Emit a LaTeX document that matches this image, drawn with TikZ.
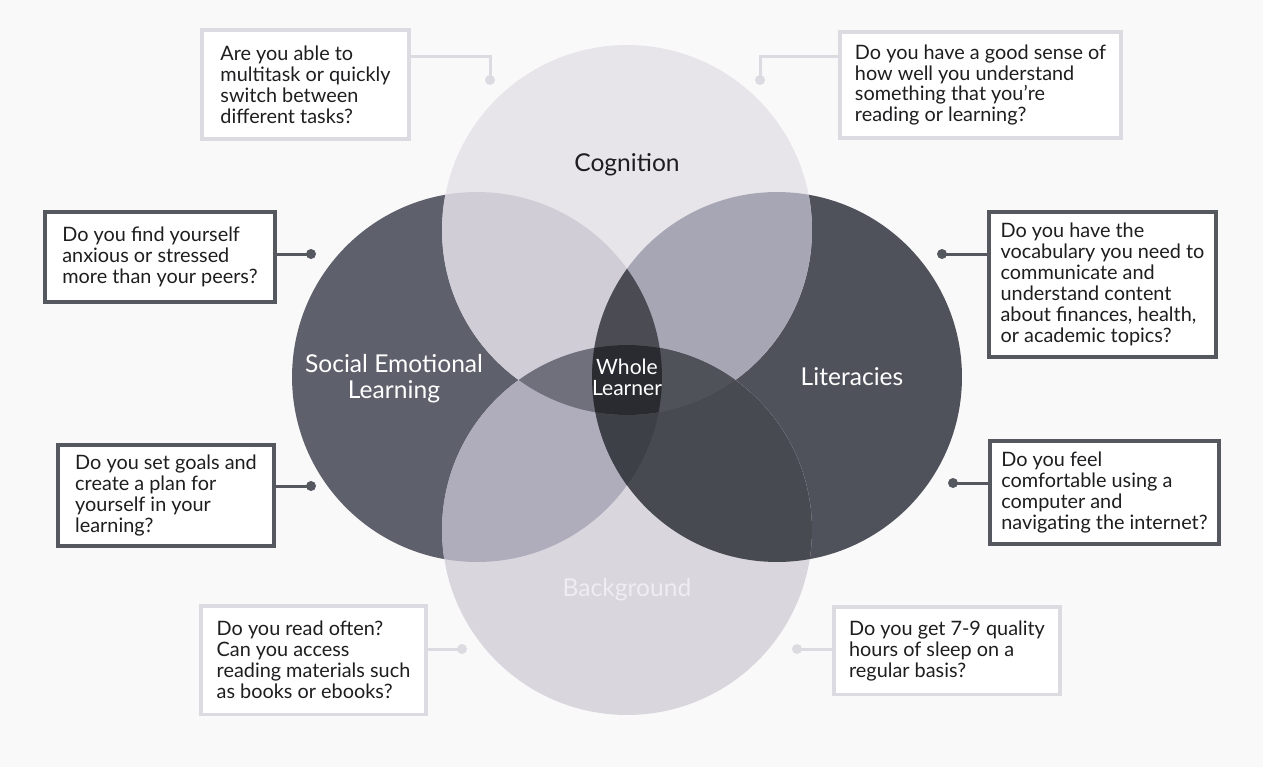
\documentclass[tikz,border=0pt]{standalone}
\usepackage{fontspec}
\setmainfont{Lato}
\usetikzlibrary{calc}

\definecolor{pagebg}{RGB}{250,249,250}
\definecolor{boxlight}{RGB}{221,219,226}
\definecolor{boxdark}{RGB}{86,88,96}
\definecolor{qtext}{RGB}{30,30,32}
% region colours of the four circles
\definecolor{cogonly}{RGB}{231,228,234}
\definecolor{bgonly}{RGB}{217,214,222}
\definecolor{selonly}{RGB}{94,96,107}
\definecolor{litonly}{RGB}{80,82,91}
\definecolor{cogsel}{RGB}{208,205,215}
\definecolor{coglit}{RGB}{167,166,180}
\definecolor{selbg}{RGB}{175,173,188}
\definecolor{litbg}{RGB}{72,74,82}
\definecolor{cogsellit}{RGB}{74,75,83}
\definecolor{sellitbg}{RGB}{62,64,71}
\definecolor{cogbgsel}{RGB}{111,112,124}
\definecolor{cogbglit}{RGB}{80,82,90}
\definecolor{allfour}{RGB}{42,43,48}
\definecolor{bglabel}{RGB}{238,237,242}

\begin{document}
\begin{tikzpicture}[x=0.02cm, y=-0.02cm,
    qbox/.style={draw, line width=0.07cm, fill=white, align=left, text=qtext,
        font=\fontsize{11.3}{11.95}\selectfont},
    lightbox/.style={qbox, draw=boxlight},
    darkbox/.style={qbox, draw=boxdark},
    lightlink/.style={draw=boxlight, line width=0.06cm},
    darklink/.style={draw=boxdark, line width=0.06cm},
    clabel/.style={font=\fontsize{14}{14.8}\selectfont, align=center, text=white}]

    % page
    \fill[pagebg] (0,0) rectangle (1263,767);
    \useasboundingbox (0,0) rectangle (1263,767);

    % the four circles
    \def\pathcog{(627,230) circle (3.7cm)}
    \def\pathbg{(627,530) circle (3.7cm)}
    \def\pathsel{(477,377) circle (3.7cm)}
    \def\pathlit{(777,377) circle (3.7cm)}

    \fill[selonly] \pathsel;
    \fill[litonly] \pathlit;
    \fill[cogonly] \pathcog;
    \fill[bgonly] \pathbg;

    % overlaps
    \begin{scope}
        \clip \pathcog;
        \fill[cogsel] \pathsel;
        \fill[coglit] \pathlit;
    \end{scope}
    \begin{scope}
        \clip \pathbg;
        \fill[selbg] \pathsel;
        \fill[litbg] \pathlit;
    \end{scope}
    \begin{scope}
        \clip \pathsel;
        \clip \pathlit;
        \fill[cogsellit] \pathcog;
        \fill[sellitbg] \pathbg;
    \end{scope}
    \begin{scope}
        \clip \pathcog;
        \clip \pathbg;
        \fill[cogbgsel] \pathsel;
        \fill[cogbglit] \pathlit;
        \clip \pathsel;
        \fill[allfour] \pathlit;
    \end{scope}

    % circle labels
    \node[clabel, text=qtext] (cog) at (627,165) {Cognition};
    \node[clabel] (sel) at (394,379) {Social Emotional\\Learning};
    \node[clabel] (lit) at (852,377) {Literacies};
    \node[clabel, text=bglabel] (bg) at (627,590) {Background};
    \node[clabel, font=\fontsize{12}{12}\selectfont] (whole) at (627,377) {Whole\\Learner};

    % question boxes
    \node[lightbox, minimum width=4.15cm, minimum height=2.19cm] (q1) at (305.5,84.5)
        {Are you able to\\multitask or quickly\\switch between\\different tasks?};
    \node[lightbox, minimum width=5.63cm, minimum height=2.13cm] (q2) at (980.5,85)
        {Do you have a good sense of\\how well you understand\\something that you’re\\reading or learning?};
    \node[darkbox, minimum width=4.61cm, minimum height=1.81cm] (q3) at (160,257)
        {Do you find yourself\\anxious or stressed\\more than your peers?};
    \node[darkbox, minimum width=4.55cm, minimum height=2.91cm] (q4) at (1102.5,284.5)
        {Do you have the\\vocabulary you need to\\communicate and\\understand content\\about finances, health,\\or academic topics?};
    \node[darkbox, minimum width=4.33cm, minimum height=2.03cm] (q5) at (166,495.5)
        {Do you set goals and\\create a plan for\\yourself in your\\learning?};
    \node[darkbox, minimum width=4.59cm, minimum height=2.07cm] (q6) at (1104.5,492.5)
        {Do you feel\\comfortable using a\\computer and\\navigating the internet?};
    \node[lightbox, minimum width=4.51cm, minimum height=2.17cm] (q7) at (313.5,660)
        {Do you read often?\\Can you access\\reading materials such\\as books or ebooks?};
    \node[lightbox, minimum width=4.53cm, minimum height=1.75cm] (q8) at (947,650.5)
        {Do you get 7-9 quality\\hours of sleep on a\\regular basis?};

    % connector ends
    \coordinate (d1) at (490,80);
    \coordinate (k1) at (490,57);
    \coordinate (d2) at (760,80);
    \coordinate (k2) at (760,57);
    \coordinate (d3) at (311,254);
    \coordinate (d4) at (942,254);
    \coordinate (d5) at (311,486);
    \coordinate (d6) at (953,483);
    \coordinate (d7) at (462,649);
    \coordinate (d8) at (797,649);

    % connectors
    \draw[lightlink] (k1 -| q1.east) -- (k1) -- (d1);
    \draw[lightlink] (k2 -| q2.west) -- (k2) -- (d2);
    \draw[darklink] (d3 -| q3.east) -- (d3);
    \draw[darklink] (d4 -| q4.west) -- (d4);
    \draw[darklink] (d5 -| q5.east) -- (d5);
    \draw[darklink] (d6 -| q6.west) -- (d6);
    \draw[lightlink] (d7 -| q7.east) -- (d7);
    \draw[lightlink] (d8 -| q8.west) -- (d8);
    \foreach \d in {d1,d2,d7,d8}
        \fill[boxlight] (\d) circle (0.1cm);
    \foreach \d in {d3,d4,d5,d6}
        \fill[boxdark] (\d) circle (0.1cm);
\end{tikzpicture}
\end{document}
